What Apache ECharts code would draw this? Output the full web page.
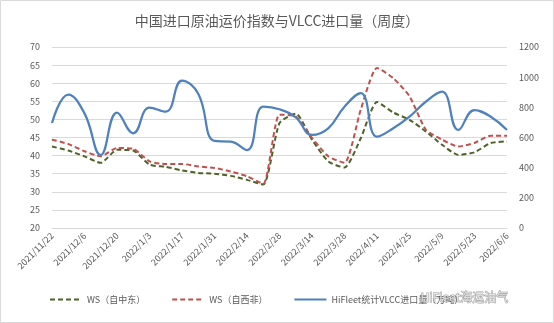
<!DOCTYPE html>
<html><head><meta charset="utf-8">
<script src="https://cdn.jsdelivr.net/npm/echarts@6/dist/echarts.min.js"></script>
<style>html,body{margin:0;padding:0;background:#fff}#c{width:554px;height:323px}</style>
</head><body><div id="c"></div>
<script>
const categories = ['2021/11/22','2021/11/29','2021/12/6','2021/12/13','2021/12/20','2021/12/27','2022/1/3','2022/1/10','2022/1/17','2022/1/24','2022/1/31','2022/2/7','2022/2/14','2022/2/21','2022/2/28','2022/3/7','2022/3/14','2022/3/21','2022/3/28','2022/4/4','2022/4/11','2022/4/18','2022/4/25','2022/5/2','2022/5/9','2022/5/16','2022/5/23','2022/5/30','2022/6/6'];
const wsMiddleEast = [42.5,41.4,39.8,38.0,41.6,41.4,37.5,36.9,35.9,35.2,35.0,34.4,33.3,32.0,49.0,51.6,44.4,38.4,36.7,44.8,54.8,51.9,49.9,46.7,43.0,40.2,40.9,43.5,43.9];
const wsWestAfrica = [44.4,43.2,41.2,39.8,42.1,41.9,38.4,37.7,37.7,37.0,36.6,35.6,34.3,32.2,51.3,50.8,44.9,39.8,38.0,52.7,64.2,61.4,56.4,47.2,44.4,42.5,43.5,45.5,45.5];
const vlccImports = [696,885,760,484,765,628,798,771,977,890,577,572,517,805,787,734,617,661,804,895,605,661,738,837,904,650,782,738,650];
const leftTicks = {min:20, max:70, interval:5};
const rightTicks = {min:0, max:1200, interval:200};
const seriesNames = ['WS（自中东）','WS（自西非）','HiFleet统计VLCC进口量（万吨）'];

const FONT = 'Noto Sans CJK SC';
const chart = echarts.init(document.getElementById('c'), null, {renderer:'canvas'});
chart.setOption({
  animation:false,
  backgroundColor:'#fff',
  title:{text:'中国进口原油运价指数与VLCC进口量（周度）', left:'center', top:9,
    textStyle:{fontFamily:FONT, fontSize:14, fontWeight:'normal', color:'#595959'}},
  grid:{left:52, right:47, top:47, bottom:95},
  legend:{bottom:14, left:44, itemWidth:32, itemHeight:8, itemGap:26,
    itemStyle:{opacity:0},
    textStyle:{fontFamily:FONT, fontSize:9, color:'#595959'},
    data:seriesNames},
  xAxis:{type:'category', data:categories, boundaryGap:false,
    axisLine:{lineStyle:{color:'#d9d9d9'}}, axisTick:{show:false},
    axisLabel:{interval:1, rotate:45, fontFamily:FONT, fontSize:9, color:'#595959', margin:6}},
  yAxis:[
    {type:'value', min:leftTicks.min, max:leftTicks.max, interval:leftTicks.interval,
     axisLine:{show:false}, axisTick:{show:false},
     axisLabel:{fontFamily:FONT, fontSize:9, color:'#595959', margin:12},
     splitLine:{lineStyle:{color:'#d9d9d9'}}},
    {type:'value', min:rightTicks.min, max:rightTicks.max, interval:rightTicks.interval,
     axisLine:{show:false}, axisTick:{show:false},
     axisLabel:{fontFamily:FONT, fontSize:9, color:'#595959', margin:12, formatter:v=>String(v)},
     splitLine:{show:false}}
  ],
  series:[
    {name:seriesNames[0], type:'line', data:wsMiddleEast, yAxisIndex:0, smooth:0.2, symbol:'none',
     lineStyle:{color:'#4f6228', width:2, type:[5,3]}, itemStyle:{color:'#4f6228'}},
    {name:seriesNames[1], type:'line', data:wsWestAfrica, yAxisIndex:0, smooth:0.2, symbol:'none',
     lineStyle:{color:'#c0504d', width:2, type:[5,3]}, itemStyle:{color:'#c0504d'}},
    {name:seriesNames[2], type:'line', data:vlccImports, yAxisIndex:1, smooth:0.45, symbol:'none',
     lineStyle:{color:'#4f81bd', width:2.25}, itemStyle:{color:'#4f81bd'}}
  ],
  graphic:[
    {type:'rect', shape:{x:0.5, y:0.5, width:553, height:322}, style:{fill:'none', stroke:'#d9d9d9', lineWidth:1}, silent:true},
    {type:'text', left:420, top:291, style:{text:'HiFleet海运油气', fontFamily:FONT, fontSize:12, fill:'rgba(255,255,255,0.75)', stroke:'rgba(90,90,90,0.6)', lineWidth:1}, z:100}
  ]
});
</script></body></html>
